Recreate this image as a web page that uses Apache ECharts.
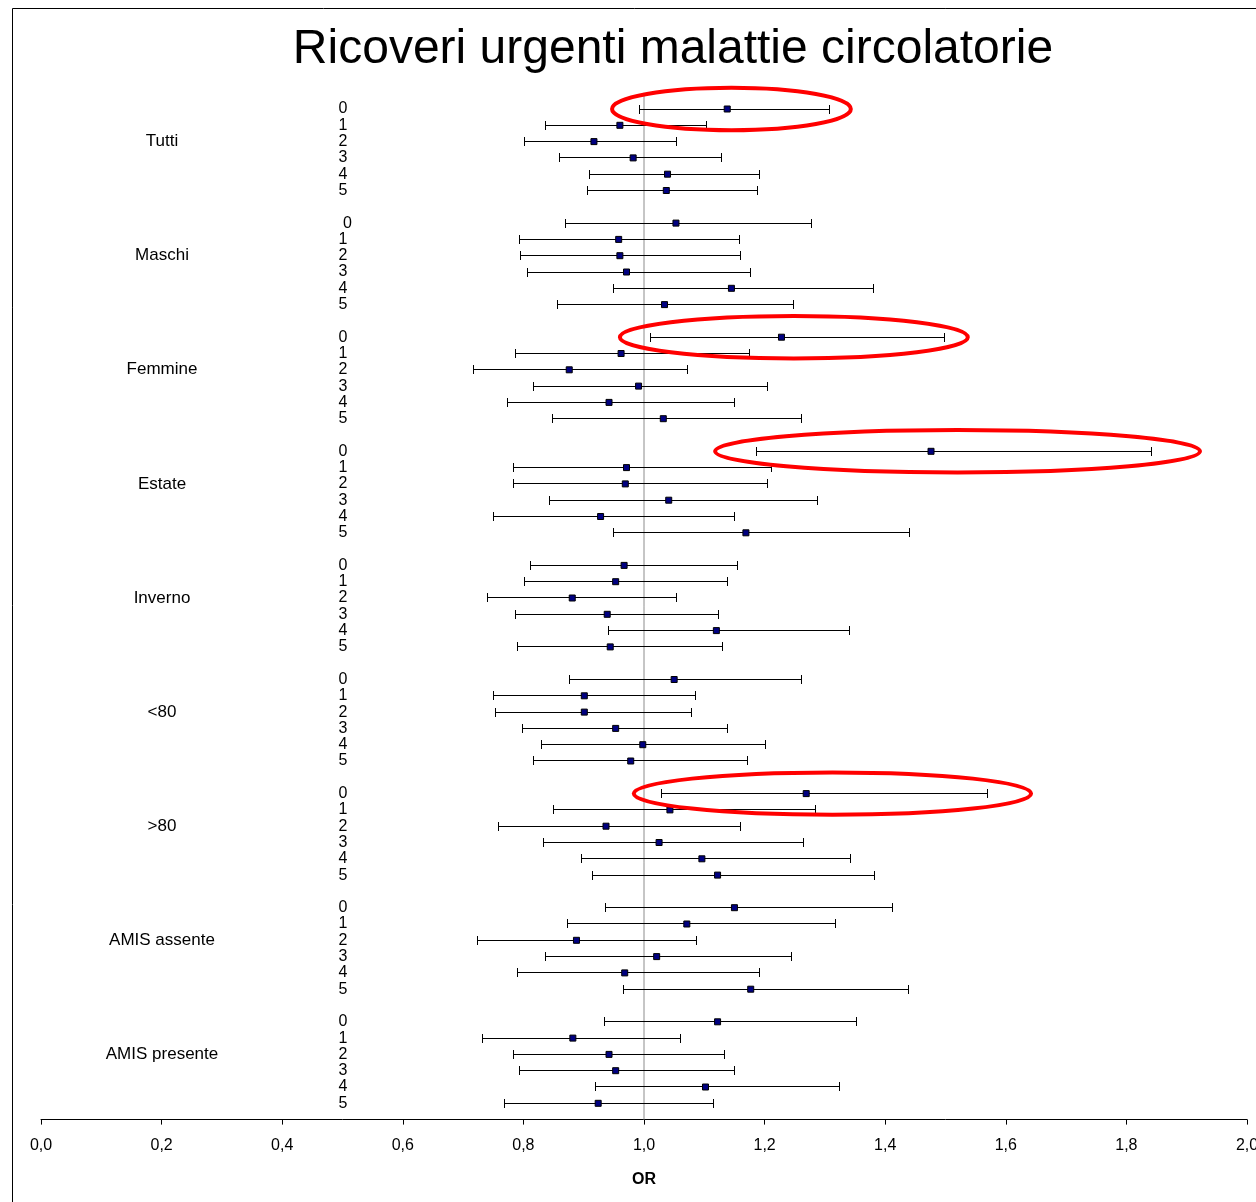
<!DOCTYPE html>
<html>
<head>
<meta charset="utf-8">
<title>Ricoveri urgenti malattie circolatorie</title>
<script src="https://cdn.jsdelivr.net/npm/echarts@6/dist/echarts.min.js"></script>
<style>
  html, body { margin: 0; padding: 0; background: #fff; }
  #chart { width: 1256px; height: 1202px; }
</style>
</head>
<body>
<div id="chart"></div>
<script>
// Subgroups (one block of lags each)
const groups = ['Tutti', 'Maschi', 'Femmine', 'Estate', 'Inverno', '<80', '>80', 'AMIS assente', 'AMIS presente'];

// Lag tick labels for each subgroup
const lagLabels = [
  ['0', '1', '2', '3', '4', '5'],
  ['  0', '1', '2', '3', '4', '5'],
  ['0', '1', '2', '3', '4', '5'],
  ['0', '1', '2', '3', '4', '5'],
  ['0', '1', '2', '3', '4', '5'],
  ['0', '1', '2', '3', '4', '5'],
  ['0', '1', '2', '3', '4', '5'],
  ['0', '1', '2', '3', '4', '5'],
  ['0', '1', '2', '3', '4', '5']
];

// Odds ratio per subgroup, lag 0..5
const oddsRatio = [
  [1.138, 0.960, 0.917, 0.982, 1.039, 1.037],
  [1.053, 0.958, 0.960, 0.971, 1.145, 1.034],
  [1.228, 0.962, 0.876, 0.991, 0.942, 1.032],
  [1.476, 0.971, 0.969, 1.041, 0.928, 1.169],
  [0.967, 0.953, 0.881, 0.939, 1.120, 0.944],
  [1.050, 0.901, 0.901, 0.953, 0.998, 0.978],
  [1.269, 1.043, 0.937, 1.025, 1.096, 1.122],
  [1.150, 1.071, 0.888, 1.021, 0.968, 1.177],
  [1.122, 0.882, 0.942, 0.953, 1.102, 0.924]
];

// Lower 95% confidence limit
const ciLow = [
  [0.993, 0.837, 0.801, 0.860, 0.909, 0.907],
  [0.869, 0.794, 0.796, 0.806, 0.950, 0.857],
  [1.010, 0.787, 0.718, 0.817, 0.774, 0.849],
  [1.187, 0.783, 0.783, 0.844, 0.751, 0.949],
  [0.812, 0.801, 0.740, 0.787, 0.941, 0.790],
  [0.876, 0.751, 0.754, 0.799, 0.830, 0.817],
  [1.029, 0.850, 0.758, 0.833, 0.896, 0.914],
  [0.936, 0.873, 0.724, 0.837, 0.790, 0.966],
  [0.934, 0.733, 0.783, 0.794, 0.920, 0.769]
];

// Upper 95% confidence limit
const ciHigh = [
  [1.308, 1.103, 1.054, 1.128, 1.191, 1.189],
  [1.277, 1.158, 1.160, 1.176, 1.381, 1.248],
  [1.498, 1.175, 1.072, 1.205, 1.150, 1.262],
  [1.842, 1.211, 1.204, 1.288, 1.150, 1.441],
  [1.155, 1.139, 1.054, 1.124, 1.340, 1.130],
  [1.261, 1.085, 1.078, 1.139, 1.201, 1.171],
  [1.570, 1.284, 1.160, 1.264, 1.342, 1.383],
  [1.412, 1.318, 1.087, 1.245, 1.191, 1.439],
  [1.353, 1.060, 1.134, 1.150, 1.324, 1.115]
];

// Highlighted estimates: [group, lag, x from, x to]
const highlights = [
  [0, 0, 0.947, 1.343],
  [2, 0, 0.960, 1.537],
  [3, 0, 1.118, 1.922],
  [6, 0, 0.983, 1.642]
];

// x-axis tick values
const xTicks = { min: 0, max: 2, interval: 0.2 };
const referenceOR = 1.0;

// Each subgroup occupies 6 rows plus one blank row
const ROWS_PER_GROUP = 7;
const rowOf = (g, i) => g * ROWS_PER_GROUP + i;

const barData = [];
const pointData = [];
groups.forEach((name, g) => {
  oddsRatio[g].forEach((v, i) => {
    barData.push([ciLow[g][i], ciHigh[g][i], rowOf(g, i)]);
    pointData.push([v, rowOf(g, i)]);
  });
});
const highlightData = highlights.map(h => [h[2], h[3], rowOf(h[0], h[1])]);

function rowInfo(v) {
  const r = Math.round(v);
  if (r < 0) return null;
  const g = Math.floor(r / ROWS_PER_GROUP);
  const i = r % ROWS_PER_GROUP;
  if (g >= groups.length || i > 5) return null;
  return { g, i };
}

// keep 1px strokes sharp
const crisp = p => Math.round(p - 0.5) + 0.5;

const FONT = 'Liberation Sans, Arial, sans-serif';

const chart = echarts.init(document.getElementById('chart'), null, { renderer: 'canvas' });

const yBase = {
  type: 'value',
  position: 'left',
  min: -1,
  max: groups.length * ROWS_PER_GROUP - 1,
  interval: 1,
  inverse: true,
  axisLine: { show: false },
  axisTick: { show: false },
  splitLine: { show: false }
};

chart.setOption({
  animation: false,
  backgroundColor: '#fff',
  title: {
    text: 'Ricoveri urgenti malattie circolatorie',
    left: 668,
    textAlign: 'center',
    top: 21,
    textStyle: { fontFamily: FONT, fontSize: 48, fontWeight: 'normal', color: '#000' }
  },
  graphic: [{
    type: 'polyline',
    shape: { points: [[12.5, 1210], [12.5, 8.5], [1270, 8.5]] },
    style: { stroke: '#000', fill: null, lineWidth: 1 },
    silent: true
  }],
  grid: {
    left: 41,
    right: 9,
    top: 92.7,
    bottom: 82.4,
    containLabel: false,
    outerBoundsMode: 'none'
  },
  xAxis: {
    type: 'value',
    min: xTicks.min,
    max: xTicks.max,
    interval: xTicks.interval,
    name: 'OR',
    nameLocation: 'middle',
    nameGap: 52,
    nameTextStyle: { fontFamily: FONT, fontSize: 16, fontWeight: 'bold', color: '#000' },
    axisLine: { show: true, onZero: false, lineStyle: { color: '#000', width: 1 } },
    axisTick: { show: true, length: 5, lineStyle: { color: '#000' } },
    axisLabel: {
      margin: 18,
      fontFamily: FONT,
      fontSize: 16,
      color: '#000',
      formatter: v => v.toFixed(1).replace('.', ',')
    },
    splitLine: { show: false }
  },
  yAxis: [
    Object.assign({}, yBase, {
      axisLabel: {
        inside: true,
        margin: 302,
        align: 'center',
        fontFamily: FONT,
        fontSize: 16,
        color: '#000',
        formatter: v => {
          const info = rowInfo(v);
          return info ? lagLabels[info.g][info.i] : '';
        }
      }
    }),
    Object.assign({}, yBase, {
      axisLabel: {
        inside: true,
        margin: 121,
        align: 'center',
        fontFamily: FONT,
        fontSize: 17,
        color: '#000',
        formatter: v => {
          const info = rowInfo(v);
          return info && info.i === 2 ? groups[info.g] : '';
        }
      }
    })
  ],
  series: [
    {
      // vertical reference line at OR = 1
      type: 'line',
      yAxisIndex: 0,
      data: [[referenceOR, -1], [referenceOR, groups.length * ROWS_PER_GROUP - 1]],
      showSymbol: false,
      symbol: 'none',
      lineStyle: { color: '#8c8c8c', width: 1 },
      silent: true,
      z: 1
    },
    {
      // confidence intervals with end caps
      type: 'custom',
      yAxisIndex: 0,
      data: barData,
      encode: { x: [0, 1], y: 2 },
      silent: true,
      z: 3,
      renderItem: (params, api) => {
        const a = api.coord([api.value(0), api.value(2)]);
        const b = api.coord([api.value(1), api.value(2)]);
        const y = crisp(a[1]);
        const x1 = crisp(a[0]);
        const x2 = crisp(b[0]);
        const cap = 4;
        const st = { stroke: '#000', lineWidth: 1 };
        return {
          type: 'group',
          children: [
            { type: 'line', shape: { x1: x1, y1: y, x2: x2, y2: y }, style: st },
            { type: 'line', shape: { x1: x1, y1: y - cap - 0.5, x2: x1, y2: y + cap + 0.5 }, style: st },
            { type: 'line', shape: { x1: x2, y1: y - cap - 0.5, x2: x2, y2: y + cap + 0.5 }, style: st }
          ]
        };
      }
    },
    {
      // point estimates
      type: 'scatter',
      yAxisIndex: 0,
      data: pointData,
      symbol: 'rect',
      symbolSize: 6,
      itemStyle: { color: '#000080', borderColor: '#000', borderWidth: 1, opacity: 1 },
      silent: true,
      z: 4
    },
    {
      // red rings around the highlighted estimates
      type: 'custom',
      yAxisIndex: 0,
      data: highlightData,
      encode: { x: [0, 1], y: 2 },
      clip: false,
      silent: true,
      z: 10,
      renderItem: (params, api) => {
        const a = api.coord([api.value(0), api.value(2)]);
        const b = api.coord([api.value(1), api.value(2)]);
        const ry = api.size([0, 1.3])[1];
        return {
          type: 'ellipse',
          shape: { cx: (a[0] + b[0]) / 2, cy: a[1], rx: (b[0] - a[0]) / 2, ry: ry },
          style: { stroke: '#ff0000', fill: null, lineWidth: 4 }
        };
      }
    }
  ]
});
</script>
</body>
</html>
